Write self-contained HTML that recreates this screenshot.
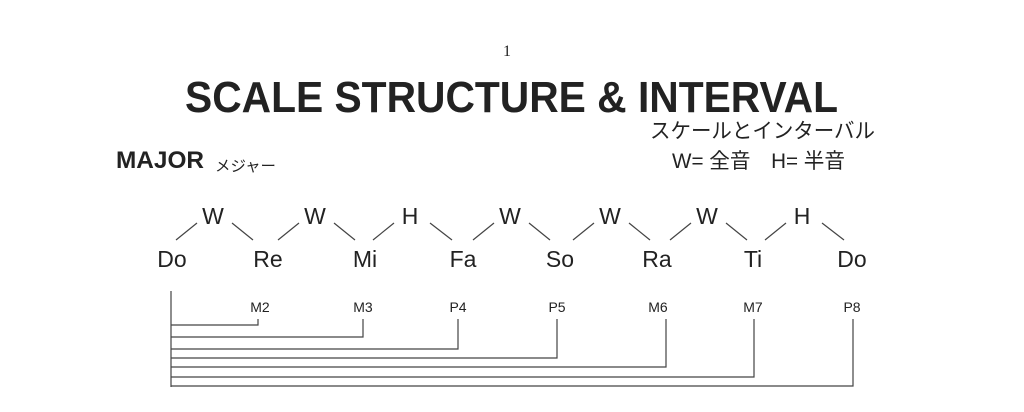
<!DOCTYPE html>
<html><head><meta charset="utf-8"><style>
html,body{margin:0;padding:0;background:#fff;width:1024px;height:412px;overflow:hidden}
svg{display:block}
text{font-family:"Liberation Sans","Noto Sans CJK JP",sans-serif;fill:#222}
</style></head><body>
<svg width="1024" height="412" viewBox="0 0 1024 412">
<text x="507" y="56" text-anchor="middle" style="font-family:'Liberation Serif',serif" font-size="16">1</text>
<text x="185" y="112" font-size="44" font-weight="bold" textLength="653" lengthAdjust="spacingAndGlyphs" fill="#111">SCALE STRUCTURE &amp; INTERVAL</text>
<text x="650" y="138" font-size="21" textLength="225" lengthAdjust="spacingAndGlyphs">スケールとインターバル</text>
<text x="672" y="168" font-size="21" textLength="173" lengthAdjust="spacingAndGlyphs">W= 全音　H= 半音</text>
<text x="116" y="168" font-size="24" font-weight="bold" textLength="88" lengthAdjust="spacingAndGlyphs" fill="#111">MAJOR</text>
<text x="215" y="171" font-size="15" textLength="61" lengthAdjust="spacingAndGlyphs">メジャー</text>
<g font-size="23" text-anchor="middle">
<text x="213" y="224">W</text><text x="315" y="224">W</text><text x="410" y="224">H</text><text x="510" y="224">W</text><text x="610" y="224">W</text><text x="707" y="224">W</text><text x="802" y="224">H</text>
<text x="172" y="267">Do</text><text x="268" y="267">Re</text><text x="365" y="267">Mi</text><text x="463" y="267">Fa</text><text x="560" y="267">So</text><text x="657" y="267">Ra</text><text x="753" y="267">Ti</text><text x="852" y="267">Do</text>
</g>
<g stroke="#444" stroke-width="1.2">
<line x1="176" y1="240" x2="197" y2="223"/><line x1="232" y1="223" x2="253" y2="240"/>
<line x1="278" y1="240" x2="299" y2="223"/><line x1="334" y1="223" x2="355" y2="240"/>
<line x1="373" y1="240" x2="394" y2="223"/><line x1="430" y1="223" x2="452" y2="240"/>
<line x1="473" y1="240" x2="494" y2="223"/><line x1="529" y1="223" x2="550" y2="240"/>
<line x1="573" y1="240" x2="594" y2="223"/><line x1="629" y1="223" x2="650" y2="240"/>
<line x1="670" y1="240" x2="691" y2="223"/><line x1="726" y1="223" x2="747" y2="240"/>
<line x1="765" y1="240" x2="786" y2="223"/><line x1="822" y1="223" x2="844" y2="240"/>
</g>
<g font-size="14" text-anchor="middle">
<text x="260" y="312">M2</text><text x="363" y="312">M3</text><text x="458" y="312">P4</text><text x="557" y="312">P5</text><text x="658" y="312">M6</text><text x="753" y="312">M7</text><text x="852" y="312">P8</text>
</g>
<g stroke="#444" stroke-width="1.2" fill="none">
<line x1="171" y1="291" x2="171" y2="387"/>
<polyline points="171,325 258,325 258,319"/>
<polyline points="171,337 363,337 363,319"/>
<polyline points="171,349 458,349 458,319"/>
<polyline points="171,358 557,358 557,319"/>
<polyline points="171,367 666,367 666,319"/>
<polyline points="171,377 754,377 754,319"/>
<polyline points="171,386 853,386 853,319"/>
</g>
</svg>
</body></html>
